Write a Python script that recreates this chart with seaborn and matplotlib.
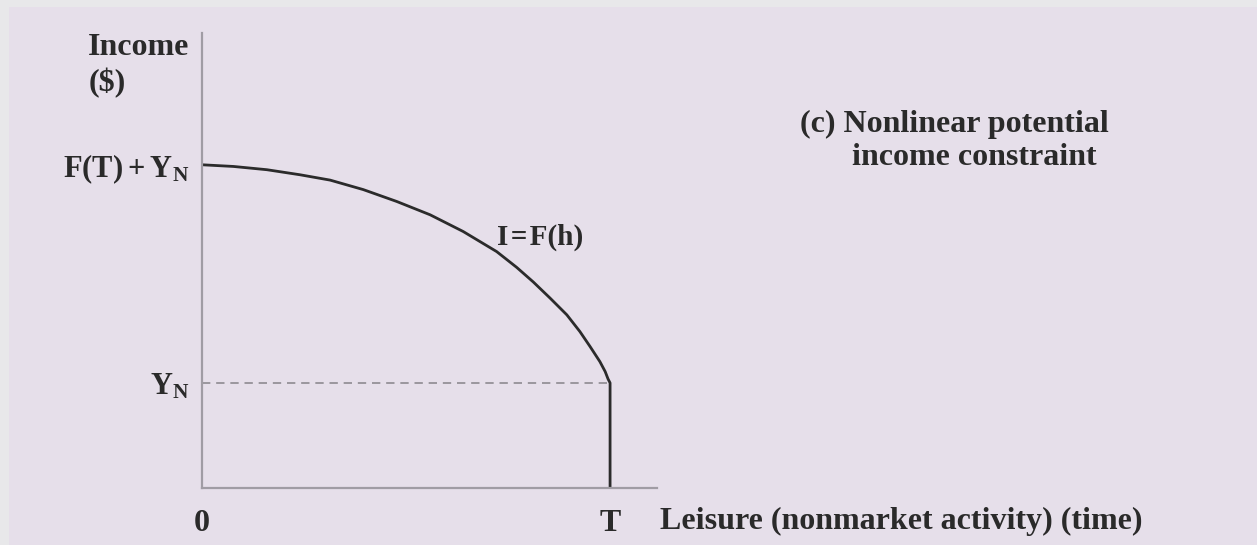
import numpy as np
import pandas as pd
import matplotlib
matplotlib.use('Agg')
import matplotlib.pyplot as plt
import seaborn as sns
from matplotlib.patches import Rectangle

# leisure h (in units of T) and potential income I (in units of Y_N)
leisure = [0.0, 0.077, 0.159, 0.240, 0.314, 0.395, 0.477, 0.559, 0.640, 0.722,
           0.771, 0.812, 0.853, 0.894, 0.926, 0.951, 0.975, 0.988, 0.995, 1.0, 1.0]
income = [3.076, 3.060, 3.029, 2.981, 2.930, 2.840, 2.727, 2.600, 2.441, 2.250,
          2.100, 1.960, 1.807, 1.648, 1.489, 1.346, 1.203, 1.108, 1.038, 1.0, 0.0]

T = 1.0
Y_N = 1.0
top_income = 3.076

x_ticks = [0, T]
x_tick_labels = ['0', 'T']
y_ticks = [Y_N, top_income]
y_tick_labels = [r'$\mathbf{Y_N}$', r'$\mathbf{F(T) + Y_N}$']

sns.set_theme(style='white')
plt.rcParams['font.family'] = ['Liberation Serif', 'DejaVu Serif']
plt.rcParams['font.weight'] = 'bold'
plt.rcParams['mathtext.fontset'] = 'custom'
plt.rcParams['mathtext.rm'] = 'Liberation Serif:bold'
plt.rcParams['mathtext.bf'] = 'Liberation Serif:bold'
plt.rcParams['mathtext.it'] = 'Liberation Serif:bold'

W, H = 1257, 545
fig = plt.figure(figsize=(W / 100, H / 100), dpi=100, facecolor='#e8e8ea')
fig.patches.append(Rectangle((9 / W, 0), 1, 1 - 7 / H, transform=fig.transFigure,
                             facecolor='#e6dfea', edgecolor='none', zorder=-1))

ax = fig.add_axes([202 / W, (H - 488) / H, (657 - 202) / W, (488 - 33) / H])
ax.set_facecolor('none')

df = pd.DataFrame({'h': leisure, 'I': income})
sns.lineplot(data=df, x='h', y='I', sort=False, estimator=None, color='#2b2b2b',
             linewidth=2.0, ax=ax)
ax.lines[0].set_solid_joinstyle('round')
ax.hlines(Y_N, 0, T, colors='#8e8a90', linestyles=(0, (5, 3.5)), linewidth=1.2)

ax.set_xlim(0, 1.115)
ax.set_ylim(0, 4.33)
for side in ['top', 'right']:
    ax.spines[side].set_visible(False)
for side in ['left', 'bottom']:
    ax.spines[side].set_color('#a09ca4')
    ax.spines[side].set_linewidth(1.6)

ax.set_xticks(x_ticks)
ax.set_xticklabels(x_tick_labels)
ax.set_yticks(y_ticks)
ax.set_yticklabels(y_tick_labels)
ax.tick_params(axis='x', length=0, pad=15, labelsize=23, labelcolor='#2a2a2a')
ax.tick_params(axis='y', length=0, pad=9, labelsize=22, labelcolor='#2a2a2a')
ax.set_xlabel('')
ax.set_ylabel('')

txt = dict(fontsize=23, fontweight='bold', color='#2a2a2a', clip_on=False)
ax.text(-0.279, 4.19, 'Income', ha='left', va='center', **txt)
ax.text(-0.279, 3.856, '($)', ha='left', va='center', **txt)
ax.text(0.828, 2.39, 'I\u200a=\u200aF(h)', ha='center', va='center',
        **{**txt, 'fontsize': 21})
ax.text(1.466, 3.456, '(c) Nonlinear potential', ha='left', va='center', **txt)
ax.text(1.593, 3.141, 'income constraint', ha='left', va='center', **txt)
ax.text(1.123, -0.316, 'Leisure (nonmarket activity) (time)', ha='left', va='center', **txt)

fig.savefig('out.png', dpi=100, facecolor=fig.get_facecolor())
